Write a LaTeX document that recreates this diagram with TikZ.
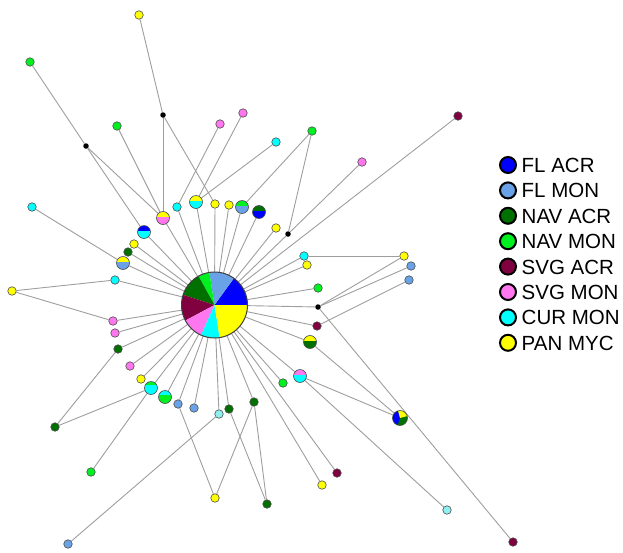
\documentclass[tikz,border=0pt]{standalone}
\usepackage{fontspec}
\setmainfont{Liberation Sans}
\usetikzlibrary{backgrounds}
\definecolor{cFA}{HTML}{0000FF}
\definecolor{cFM}{HTML}{6AA2E8}
\definecolor{cNA}{HTML}{007000}
\definecolor{cNM}{HTML}{00F020}
\definecolor{cSA}{HTML}{800040}
\definecolor{cSM}{HTML}{FF77EE}
\definecolor{cCM}{HTML}{00FFFF}
\definecolor{cPM}{HTML}{FFFF00}
\definecolor{cLC}{HTML}{90F0F0}
\definecolor{cEdge}{HTML}{9E9E9E}
\begin{document}
\begin{tikzpicture}[x=1pt,y=-1pt,
 hap/.style={circle, draw=black!70, line width=0.6pt, fill=#1, minimum size=8.5pt, inner sep=0pt},
 med/.style={circle, fill=black, minimum size=5.5pt, inner sep=0pt},
 bi/.style n args={3}{circle, draw=black!70, line width=0.6pt, fill=#2, minimum size=13pt, inner sep=0pt,
   path picture={\fill[#1] (path picture bounding box.north west) rectangle ([yshift=-#3]path picture bounding box.north east);}},
 link/.style={draw=cEdge, line width=0.9pt},
 leg/.style={circle, draw=black, line width=2pt, fill=#1, minimum size=16pt, inner sep=0pt},
 legtext/.style={anchor=base west, font=\fontsize{20.5}{22}\selectfont, inner sep=0pt}]
\useasboundingbox (0,0) rectangle (623,552);

% central haplotype
\node[circle, minimum size=66pt, inner sep=0pt] (c) at (214.5,305) {};

% small haplotypes
\node[hap=cPM] (n1) at (139,15) {};
\node[hap=cNM] (n2) at (30,62) {};
\node[med] (b1) at (86,146) {};
\node[hap=cNM] (n3) at (117,126) {};
\node[med] (b2) at (163,115) {};
\node[hap=cSM] (n4) at (220,124) {};
\node[hap=cSM] (n5) at (243,113) {};
\node[hap=cCM] (n6) at (276,142) {};
\node[hap=cNM] (n7) at (312,131) {};
\node[hap=cSA] (n8) at (458,116) {};
\node[hap=cSM] (n9) at (362,162) {};
\node[bi={cNM}{cFM}{5pt}] (m1) at (242,207) {};
\node[bi={cNA}{cFA}{5pt}] (m2) at (259,212) {};
\node[hap=cPM] (n10) at (276,228) {};
\node[med] (b3) at (288,234) {};
\node[hap=cCM] (n11) at (304,256) {};
\node[hap=cPM] (n12) at (307,265) {};
\node[hap=cPM] (n13) at (404,256) {};
\node[hap=cFM] (n14) at (411,266) {};
\node[hap=cFM] (n15) at (409,280) {};
\node[hap=cNM] (n16) at (318,288) {};
\node[med] (b4) at (318,307) {};
\node[hap=cSA] (n17) at (317,326) {};
\node[bi={cPM}{cNA}{5pt}] (m3) at (310,342) {};
\node[bi={cSM}{cCM}{5pt}] (m4) at (300,376) {};
\node[hap=cNM] (n18) at (283,383) {};
\node[hap=cNA] (n19) at (254,402) {};
\node[circle, draw=black!70, line width=0.6pt, fill=cNA, minimum size=15pt, inner sep=0pt,
  path picture={
   \fill[cFA] (path picture bounding box.center) -- ++(105:10pt) arc[start angle=105, end angle=250, radius=10pt] -- cycle;
   \fill[cPM] (path picture bounding box.center) -- ++(15:10pt) arc[start angle=15, end angle=105, radius=10pt] -- cycle;}] (t1) at (400,418) {};
\node[hap=cSA] (n20) at (337,473) {};
\node[hap=cPM] (n21) at (322,485) {};
\node[hap=cNA] (n22) at (267,504) {};
\node[hap=cLC] (n23) at (447,510) {};
\node[hap=cSA] (n24) at (513,542) {};
\node[hap=cCM] (n25) at (32,207) {};
\node[bi={cPM}{cSM}{5pt}] (m5) at (163,218) {};
\node[hap=cCM] (n26) at (177,207) {};
\node[bi={cPM}{cCM}{5pt}] (m6) at (196,202) {};
\node[hap=cPM] (n27) at (215,204) {};
\node[hap=cPM] (n28) at (229,205) {};
\node[bi={cFA}{cCM}{5pt}] (m7) at (144,232) {};
\node[hap=cPM] (n29) at (134,244) {};
\node[hap=cNA] (n30) at (128,252) {};
\node[bi={cPM}{cFM}{5pt}] (m8) at (123,263) {};
\node[hap=cCM] (n31) at (115,280) {};
\node[hap=cPM] (n32) at (12,291) {};
\node[hap=cSM] (n33) at (113,321) {};
\node[hap=cSM] (n34) at (115,333) {};
\node[hap=cNA] (n35) at (118,349) {};
\node[hap=cSM] (n36) at (130,366) {};
\node[hap=cPM] (n37) at (141,379) {};
\node[bi={cNM}{cCM}{3pt}] (m9) at (151,388) {};
\node[bi={cCM}{cNM}{4pt}] (m10) at (165,397) {};
\node[hap=cFM] (n38) at (178,404) {};
\node[hap=cFM] (n39) at (194,408) {};
\node[hap=cLC] (n40) at (219,414) {};
\node[hap=cNA] (n41) at (229,409) {};
\node[hap=cNA] (n42) at (55,427) {};
\node[hap=cNM] (n43) at (91,472) {};
\node[hap=cPM] (n44) at (215,498) {};
\node[hap=cFM] (n45) at (68,544) {};

% connectors
\begin{scope}[on background layer]
\draw[link] (n1) -- (b2);
\draw[link] (b2) -- (m5);
\draw[link] (b2) -- (n27);
\draw[link] (n2) -- (b1);
\draw[link] (b1) -- (m7);
\draw[link] (b1) -- (m5);
\draw[link] (n3) -- (m5);
\draw[link] (n4) -- (n26);
\draw[link] (n5) -- (m6);
\draw[link] (n6) -- (m6);
\draw[link] (n7) -- (m1);
\draw[link] (n7) -- (b3);
\draw[link] (n9) -- (b3);
\draw[link] (n13) -- (n11);
\draw[link] (n13) -- (b4);
\draw[link] (n14) -- (b4);
\draw[link] (n15) -- (n17);
\draw[link] (b4) -- (n24);
\draw[link] (m3) -- (t1);
\draw[link] (m4) -- (t1);
\draw[link] (m4) -- (n23);
\draw[link] (n19) -- (n22);
\draw[link] (n19) -- (n44);
\draw[link] (n41) -- (n22);
\draw[link] (n38) -- (n44);
\draw[link] (n40) -- (n45);
\draw[link] (m9) -- (n42);
\draw[link] (m9) -- (n43);
\draw[link] (n42) -- (n35);
\draw[link] (n32) -- (n31);
\draw[link] (n32) -- (n33);
\draw[link] (n25) -- (m8);
\foreach \t in {n8,m8,n30,n29,m7,m5,n26,m6,n27,n28,m1,m2,n10,b3,n11,n12,n16,b4,n17,m3,m4,n18,n20,n21,n19,n41,n40,n39,n38,m10,m9,n37,n36,n35,n34,n33,n31}
  \draw[link] (c) -- (\t);
\end{scope}

% pie of the central haplotype
\foreach \a/\b/\col in {0/54/cFA, 54/99/cFM, 99/119/cNM, 119/162/cNA, 162/208/cSA, 208/246/cSM, 246/279/cCM, 279/360/cPM}
  \fill[\col] (c.center) -- ++(\a:33pt) arc[start angle=\a, end angle=\b, radius=33pt] -- cycle;
\draw[black!75, line width=1pt] (c.center) circle[radius=33pt];

% legend
\foreach \i/\col/\txt in {0/cFA/FL ACR, 1/cFM/FL MON, 2/cNA/NAV ACR, 3/cNM/NAV MON, 4/cSA/SVG ACR, 5/cSM/SVG MON, 6/cCM/CUR MON, 7/cPM/PAN MYC}{
  \node[leg=\col] (l\i) at (508,165+25.4*\i) {};
  \node[legtext] (lt\i) at (521.5,172.5+25.4*\i) {\txt};
}
\end{tikzpicture}
\end{document}
